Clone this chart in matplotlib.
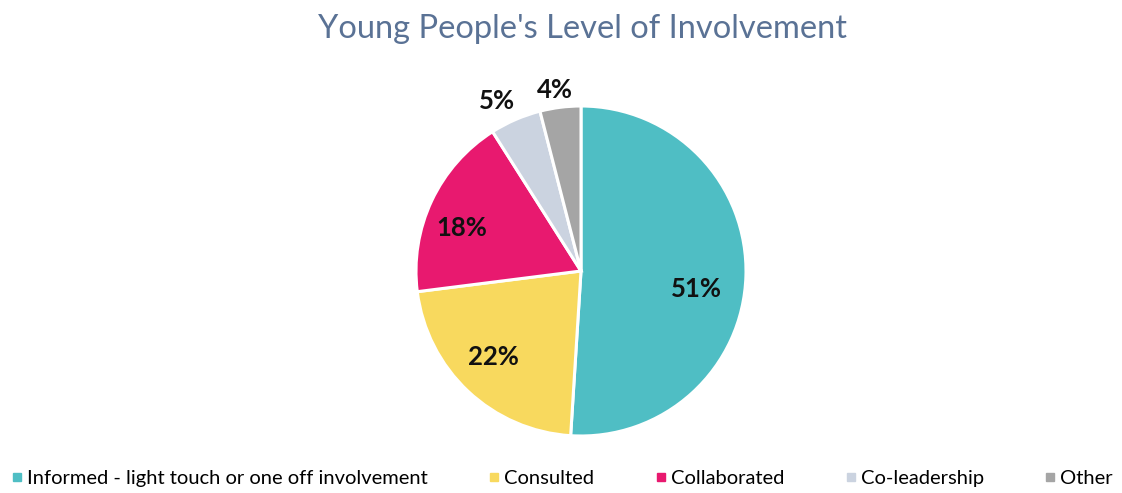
import matplotlib.pyplot as plt
from matplotlib.lines import Line2D

labels = ["Informed - light touch or one off involvement", "Consulted",
          "Collaborated", "Co-leadership", "Other"]
values = [51, 22, 18, 5, 4]
colors = ["#4FBEC4", "#F8D95E", "#E8196F", "#CBD3E0", "#A5A5A5"]

plt.rcParams['font.family'] = ['Lato', 'DejaVu Sans']


def main():
    fig = plt.figure(figsize=(11.22, 4.93), dpi=100)

    # pie axes: centre ~ (581, 271) px, radius ~165 px
    r = 165
    cx, cy = 581, 271
    ax = fig.add_axes([(cx - r) / 1122, 1 - (cy + r) / 493, 2 * r / 1122, 2 * r / 493])
    wedges, texts, autotexts = ax.pie(
        values, colors=colors, startangle=90, counterclock=False,
        autopct="%d%%", pctdistance=0.74,
        wedgeprops=dict(edgecolor="white", linewidth=2.2),
        textprops=dict(fontsize=18.5, fontweight="bold", color="#111111"),
        radius=1.0)
    ax.set_xlim(-1, 1)
    ax.set_ylim(-1, 1)
    ax.set_aspect("equal")

    # nudge labels to where the original puts them (small slices outside)
    autotexts[0].set_position((0.70, -0.11))
    autotexts[1].set_position((-0.533, -0.52))
    autotexts[2].set_position((-0.72, 0.26))
    autotexts[3].set_position((-0.51, 1.03))
    autotexts[4].set_position((-0.158, 1.10))

    fig.text(0.519, 0.942, "Young People's Level of Involvement", ha="center", va="center",
             fontsize=23.5, color="#5A7295")

    handles = [Line2D([], [], marker="s", linestyle="none", markersize=6,
                      markerfacecolor=c, markeredgecolor=c) for c in colors]
    fig.legend(handles, labels, loc="center", bbox_to_anchor=(0.5, 0.03), ncol=5,
               frameon=False, fontsize=14.5, handletextpad=0.1, columnspacing=2.9,
               handlelength=0.8)

    fig.savefig("out.png", dpi=100, facecolor="white")


if __name__ == "__main__":
    main()
